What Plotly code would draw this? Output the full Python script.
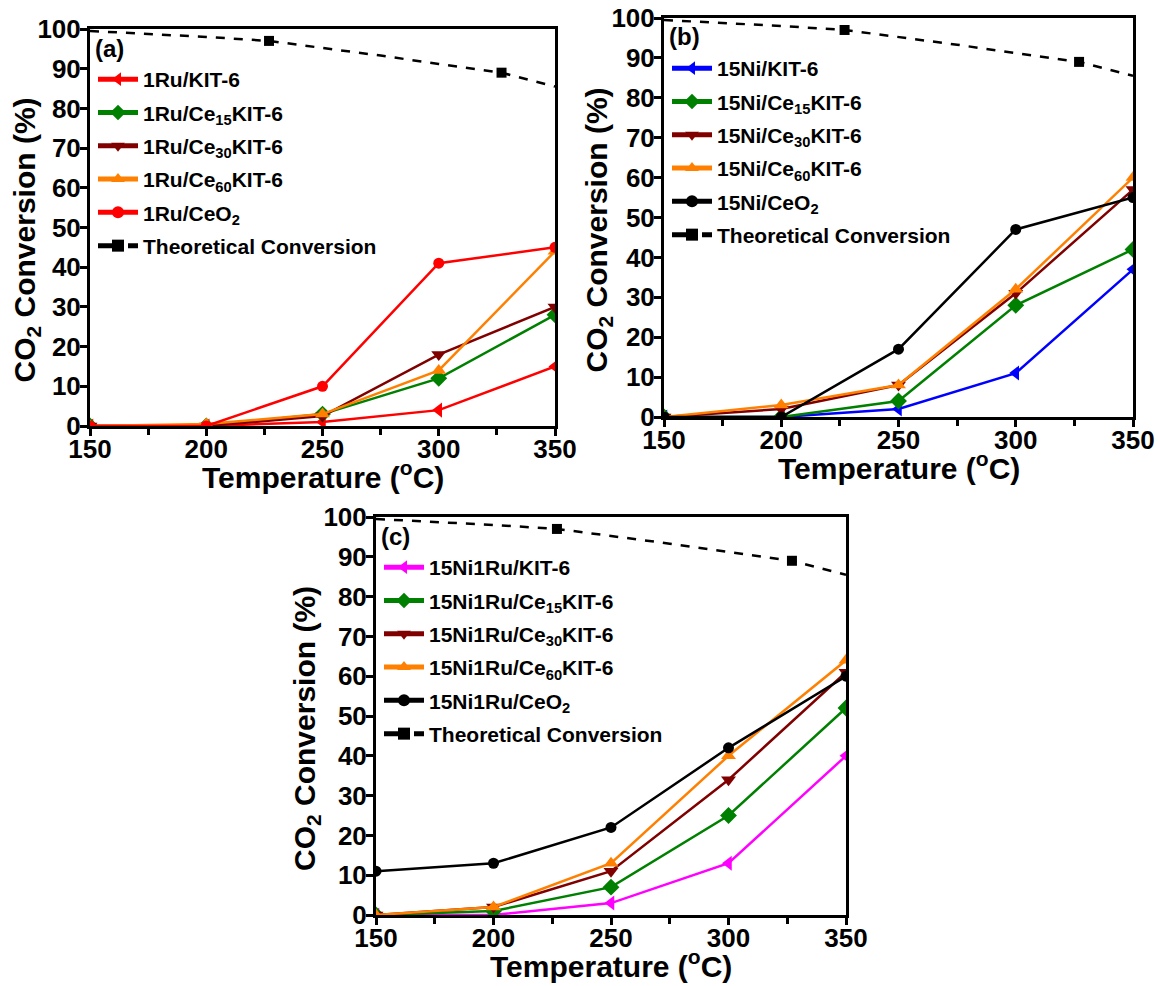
import plotly.graph_objects as go

temps = [150, 200, 250, 300, 350]
theo_t = [150, 175, 200, 227, 250, 275, 300, 327, 350]
theo_v = [99.5, 98.8, 98, 97, 95.3, 93.3, 91.2, 89, 85.5]
theo_marker = [0, 0, 0, 1, 0, 0, 0, 1, 0]

names_a = ["1Ru/KIT-6", "1Ru/Ce<sub>15</sub>KIT-6", "1Ru/Ce<sub>30</sub>KIT-6",
           "1Ru/Ce<sub>60</sub>KIT-6", "1Ru/CeO<sub>2</sub>"]
a_kit6 = [0, 0, 1, 4, 15]
a_ce15 = [0, 0, 3, 12, 28]
a_ce30 = [0, 0, 2.5, 18, 30]
a_ce60 = [0, 0.5, 3, 14, 44]
a_ceo2 = [0, 0, 10, 41, 45]

names_b = ["15Ni/KIT-6", "15Ni/Ce<sub>15</sub>KIT-6", "15Ni/Ce<sub>30</sub>KIT-6",
           "15Ni/Ce<sub>60</sub>KIT-6", "15Ni/CeO<sub>2</sub>"]
b_kit6 = [0, 0, 2, 11, 37]
b_ce15 = [0, 0, 4, 28, 42]
b_ce30 = [0, 2, 8, 31, 57]
b_ce60 = [0, 3, 8, 32, 60]
b_ceo2 = [0, 0, 17, 47, 55]

names_c = ["15Ni1Ru/KIT-6", "15Ni1Ru/Ce<sub>15</sub>KIT-6", "15Ni1Ru/Ce<sub>30</sub>KIT-6",
           "15Ni1Ru/Ce<sub>60</sub>KIT-6", "15Ni1Ru/CeO<sub>2</sub>"]
c_kit6 = [0, 0, 3, 13, 40]
c_ce15 = [0, 1, 7, 25, 52]
c_ce30 = [0, 2, 11, 34, 61]
c_ce60 = [0, 2, 13, 40, 64]
c_ceo2 = [11, 13, 22, 42, 60]

x_ticks = [150, 200, 250, 300, 350]
y_ticks = [0, 10, 20, 30, 40, 50, 60, 70, 80, 90, 100]

symbols = ["triangle-left", "diamond", "triangle-down", "triangle-up", "circle"]
colors_a = ["#FF0000", "#008000", "#800000", "#FF8000", "#FF0000"]
colors_b = ["#0000FF", "#008000", "#800000", "#FF8000", "#000000"]
colors_c = ["#FF00FF", "#008000", "#800000", "#FF8000", "#000000"]

W, H = 1160, 986
OFF = 0  # body margin removed via post_script
FONT = "Liberation Sans"


def px(x):
    return (x - OFF) / W


def py(y):
    return 1 - (y - OFF) / H


fig = go.Figure()

panels = [
    ("x", "y", "legend", names_a, [a_kit6, a_ce15, a_ce30, a_ce60, a_ceo2], colors_a),
    ("x2", "y2", "legend2", names_b, [b_kit6, b_ce15, b_ce30, b_ce60, b_ceo2], colors_b),
    ("x3", "y3", "legend3", names_c, [c_kit6, c_ce15, c_ce30, c_ce60, c_ceo2], colors_c),
]

for xa, ya, lg, names, series, cols in panels:
    for i, (nm, vals, col, sym) in enumerate(zip(names, series, cols, symbols)):
        msize = 13 if sym != "circle" else 11
        fig.add_trace(go.Scatter(
            x=temps, y=vals, name=nm, mode="lines+markers",
            line=dict(color=col, width=2.5),
            marker=dict(symbol=sym, size=msize, color=col, opacity=1,
                        line=dict(width=0)),
            xaxis=xa, yaxis=ya, legend=lg, legendgroup=f"{lg}_{i}",
        ))
    fig.add_trace(go.Scatter(
        x=theo_t, y=theo_v, name="Theoretical Conversion", mode="lines+markers",
        line=dict(color="black", width=2.5, dash="dash"),
        marker=dict(symbol="square", size=[10 * m for m in theo_marker], color="black",
                    opacity=1, line=dict(width=0)),
        xaxis=xa, yaxis=ya, legend=lg, legendgroup=f"{lg}_theo",
    ))

# plot areas in screenshot pixels: (left, right, top, bottom)
boxes = [(90, 555, 29, 426), (664, 1133, 18, 417), (376, 846, 517, 915)]

axis_common = dict(
    showline=True, linecolor="black", linewidth=3, mirror=True,
    ticks="outside", ticklen=7, tickwidth=2.5, tickcolor="black",
    showgrid=False, zeroline=False, automargin=False,
    ticklabeloverflow="allow",
    tickfont=dict(family=FONT, size=26, color="black", weight="bold"),
)

layout = dict(
    width=W, height=H, margin=dict(l=0, r=0, t=0, b=0, autoexpand=False),
    plot_bgcolor="white", paper_bgcolor="white", showlegend=True,
)

suffixes = ["", "2", "3"]
for s, b in zip(suffixes, boxes):
    l, r, t, bt = b
    layout["xaxis" + s] = dict(
        axis_common, domain=[px(l), px(r)], anchor="y" + s, range=[150, 350],
        tickvals=x_ticks, ticktext=[str(v) for v in x_ticks], ticklabelstandoff=-9,
        minor=dict(tickvals=[175, 225, 275, 325], ticks="outside", ticklen=6,
                   tickwidth=2.5, tickcolor="black"),
    )
    layout["yaxis" + s] = dict(
        axis_common, domain=[py(bt), py(t)], anchor="x" + s, range=[0, 100],
        tickvals=y_ticks, ticktext=[str(v) for v in y_ticks], ticklabelstandoff=-6,
    )

legend_style = dict(
    font=dict(family=FONT, size=21, color="black", weight="bold"),
    bgcolor="rgba(0,0,0,0)", borderwidth=0, tracegroupgap=3,
    xanchor="left", yanchor="top", itemwidth=40, itemsizing="constant",
)
leg_keys = ["legend", "legend2", "legend3"]
for key, b in zip(leg_keys, boxes):
    l, r, t, bt = b
    layout[key] = dict(legend_style, x=px(l + 3), y=py(t + 30))

fig.update_layout(**layout)

annotations = []
labels = ["(a)", "(b)", "(c)"]
ytitle_x = [26, 598, 306]
for lab, b, yx in zip(labels, boxes, ytitle_x):
    l, r, t, bt = b
    annotations.append(dict(
        text=lab, x=px(l + 3), y=py(t + 19), xref="paper", yref="paper",
        xanchor="left", yanchor="middle", showarrow=False,
        font=dict(family=FONT, size=24, color="black", weight="bold"),
    ))
    annotations.append(dict(
        text="Temperature (<sup>o</sup>C)", x=px((l + r) / 2), y=py(bt + 49),
        xref="paper", yref="paper", xanchor="center", yanchor="middle",
        showarrow=False, font=dict(family=FONT, size=30, color="black", weight="bold"),
    ))
    annotations.append(dict(
        text="CO<sub>2</sub> Conversion (%)", x=px(yx), y=py((t + bt) / 2 + 13),
        xref="paper", yref="paper", xanchor="center", yanchor="middle",
        textangle=-90, showarrow=False,
        font=dict(family=FONT, size=30, color="black", weight="bold"),
    ))
fig.update_layout(annotations=annotations)

fig.write_html("out.html", config={"displayModeBar": False},
               post_script="document.body.style.margin='0';")
